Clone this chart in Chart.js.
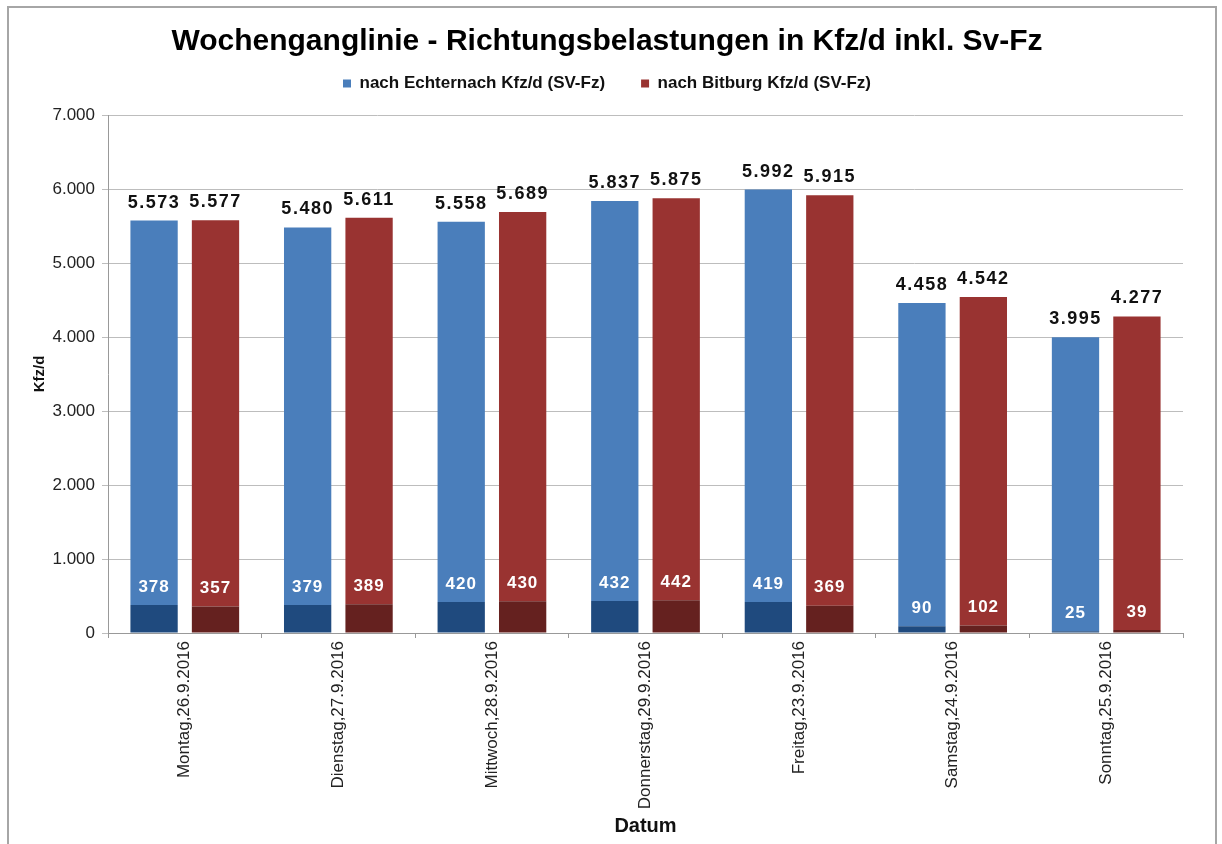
<!DOCTYPE html>
<html>
<head>
<meta charset="utf-8">
<script src="https://cdn.jsdelivr.net/npm/chart.js@4/dist/chart.umd.min.js"></script>
<style>
html,body{margin:0;padding:0;background:#fff;}
#wrap{position:relative;width:1222px;height:844px;}
</style>
</head>
<body>
<div id="wrap"><canvas id="c"></canvas></div>
<script>
const days = ['Montag,26.9.2016','Dienstag,27.9.2016','Mittwoch,28.9.2016','Donnerstag,29.9.2016','Freitag,23.9.2016','Samstag,24.9.2016','Sonntag,25.9.2016'];
const echternachTotal = [5573,5480,5558,5837,5992,4458,3995];
const bitburgTotal = [5577,5611,5689,5875,5915,4542,4277];
const echternachSV = [378,379,420,432,419,90,25];
const bitburgSV = [357,389,430,442,369,102,39];
const yTicks = [0,1000,2000,3000,4000,5000,6000,7000];

const FONT = "'Liberation Sans', Arial, sans-serif";
function fmt(v){ return String(v).replace(/\B(?=(\d{3})+(?!\d))/g, '.'); }

// remaining (non-SV) part so SV + rest stacks up to the total
const echternachRest = echternachTotal.map((t, i) => t - echternachSV[i]);
const bitburgRest = bitburgTotal.map((t, i) => t - bitburgSV[i]);

const frame = {
  id:'frame',
  beforeDraw(chart){
    const ctx = chart.ctx;
    ctx.save();
    ctx.fillStyle = '#fff';
    ctx.fillRect(0,0,chart.width,chart.height);
    ctx.strokeStyle = '#a6a6a6';
    ctx.lineWidth = 2;
    ctx.strokeRect(8,7,1208,860);
    ctx.restore();
  }
};

const legendSpace = {
  id:'legendSpace',
  beforeInit(chart){
    const orig = chart.legend.fit;
    chart.legend.fit = function(){ orig.call(this); this.height += 13; };
  }
};

const valueLabels = {
  id:'valueLabels',
  afterDatasetsDraw(chart){
    const ctx = chart.ctx;
    ctx.save();
    ctx.textAlign = 'center';
    ctx.textBaseline = 'middle';
    chart.data.datasets.forEach((ds, di) => {
      const meta = chart.getDatasetMeta(di);
      meta.data.forEach((bar, i) => {
        const v = ds.labelValues[i];
        if (ds.isSV) {
          ctx.fillStyle = '#ffffff';
          ctx.font = "bold 17px " + FONT;
          ctx.letterSpacing = '1px';
          ctx.fillText(fmt(v), bar.x, bar.y - 18);
        } else {
          ctx.fillStyle = '#111111';
          ctx.font = "bold 18px " + FONT;
          ctx.letterSpacing = '1.5px';
          ctx.fillText(fmt(v), bar.x, bar.y - 18);
        }
      });
    });
    ctx.restore();
  }
};

const CP = 0.80, BP = 0.77;

new Chart(document.getElementById('c'), {
  type:'bar',
  data:{
    labels: days,
    datasets:[
      {label:'SV Echternach', data: echternachSV, labelValues: echternachSV, isSV:true, stack:'E', backgroundColor:'#1f4a7e', categoryPercentage:CP, barPercentage:BP},
      {label:'nach Echternach Kfz/d (SV-Fz)', data: echternachRest, labelValues: echternachTotal, stack:'E', backgroundColor:'#4a7ebb', categoryPercentage:CP, barPercentage:BP},
      {label:'SV Bitburg', data: bitburgSV, labelValues: bitburgSV, isSV:true, stack:'B', backgroundColor:'#65211f', categoryPercentage:CP, barPercentage:BP},
      {label:'nach Bitburg Kfz/d (SV-Fz)', data: bitburgRest, labelValues: bitburgTotal, stack:'B', backgroundColor:'#993331', categoryPercentage:CP, barPercentage:BP}
    ]
  },
  options:{
    responsive:true,
    maintainAspectRatio:false,
    animation:false,
    events:[],
    layout:{padding:{left:31, right:39, top:8, bottom:6}},
    plugins:{
      tooltip:{enabled:false},
      title:{
        display:true,
        text:'Wochenganglinie - Richtungsbelastungen in Kfz/d inkl. Sv-Fz',
        color:'#000',
        font:{family:FONT, size:30, weight:'bold'},
        padding:{top:16, bottom:-21}
      },
      legend:{
        display:true,
        position:'top',
        labels:{
          filter:(item) => !isSVIndex(item.datasetIndex),
          boxWidth:8, boxHeight:8,
          color:'#111',
          font:{family:FONT, size:17, weight:'bold'},
          padding:36
        }
      }
    },
    scales:{
      x:{
        stacked:true,
        offset:true,
        grid:{display:true, drawOnChartArea:false, drawTicks:true, tickLength:5, color:'#999'},
        border:{display:true, color:'#999'},
        ticks:{color:'#222', font:{family:FONT, size:17}, minRotation:90, maxRotation:90, padding:3, autoSkip:false},
        title:{display:true, text:'Datum', color:'#111', font:{family:FONT, size:20, weight:'bold'}, padding:{top:4, bottom:0}},
        afterFit(scale){ scale.height = 205; }
      },
      y:{
        stacked:true,
        min:0, max:7000,
        afterBuildTicks(scale){ scale.ticks = yTicks.map(v => ({value:v})); },
        grid:{color:'#bdbdbd', tickLength:6, drawTicks:true},
        border:{display:true, color:'#999'},
        ticks:{color:'#222', font:{family:FONT, size:17}, padding:7, callback:(v) => fmt(v)},
        title:{display:true, text:'Kfz/d', color:'#111', font:{family:FONT, size:15, weight:'bold'}, padding:{top:0,bottom:0}},
        afterFit(scale){ scale.width = 77; }
      }
    }
  },
  plugins:[frame, legendSpace, valueLabels]
});
function isSVIndex(i){ return i === 0 || i === 2; }
</script>
</body>
</html>
